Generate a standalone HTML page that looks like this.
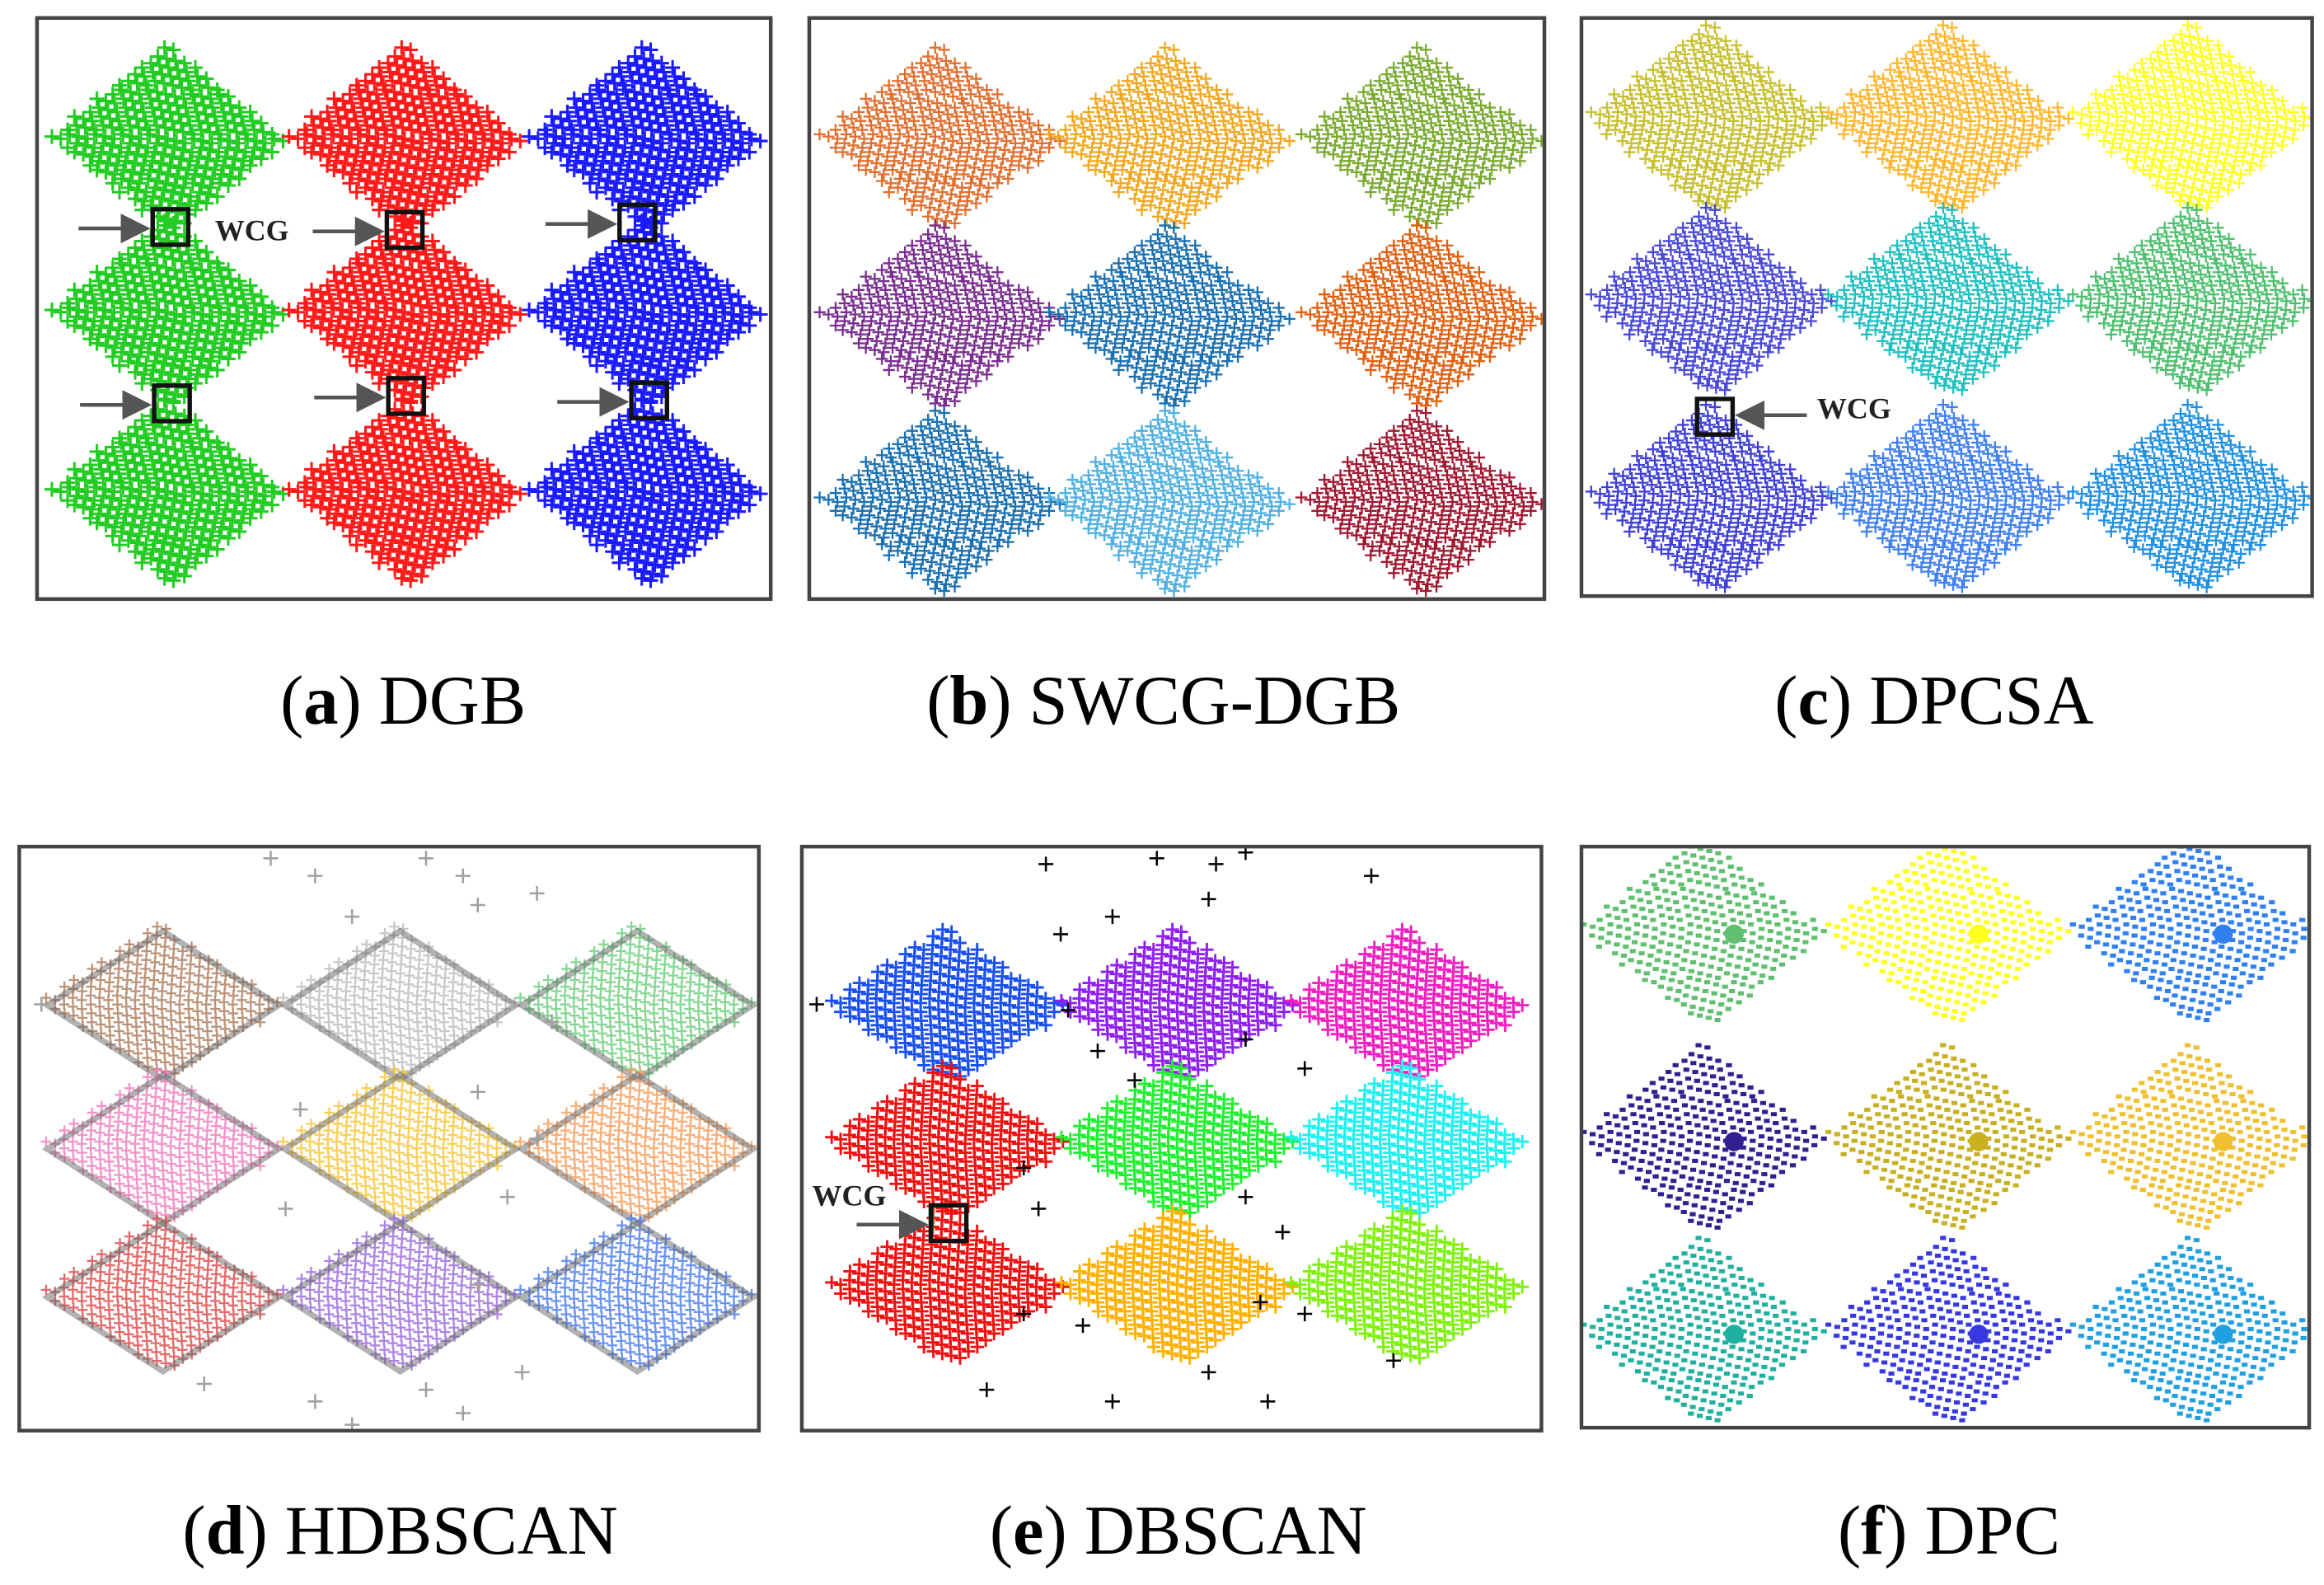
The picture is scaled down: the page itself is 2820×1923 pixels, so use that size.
<!DOCTYPE html>
<html><head><meta charset="utf-8">
<style>
html,body{margin:0;padding:0;background:#fff;}
svg{display:block;}
text{font-family:"Liberation Serif",serif;}
</style></head>
<body>
<svg id="fig" width="2820" height="1923" viewBox="0 0 1568 1069" xmlns="http://www.w3.org/2000/svg">
<rect width="1568" height="1069" fill="#fff"/>
<g id="panels"></g>
<g id="annot"></g>
</svg>
<script>
// Cluster grid data (data-space: column index, row index) per panel
const panelNames = ["DGB","SWCG-DGB","DPCSA","HDBSCAN","DBSCAN","DPC"];
const panelLetters = ["a","b","c","d","e","f"];
const colorsA = ["#22cc22","#ff1a1a","#1a1aff","#22cc22","#ff1a1a","#1a1aff","#22cc22","#ff1a1a","#1a1aff"];
const colorsB = ["#e07030","#f0a820","#7aaa30","#7a2f8f","#1a70b0","#e06010","#1a70b0","#50b0e0","#a01830"];
const colorsC = ["#c8c030","#ffb830","#ffff20","#4a4ad8","#20c0c0","#50c070","#4040d8","#4080f0","#2090e0"];
const colorsD = ["#b08060","#c0c0c0","#70d080","#f080c0","#f8c840","#f8a060","#e05050","#a070e0","#5080f0"];
const colorsE = ["#1a50f0","#9020f0","#f020c0","#f01010","#20f030","#20f0f0","#f01010","#ffb000","#80f010"];
const colorsF = ["#60c070","#ffff20","#3080f0","#302090","#c8b020","#f0c030","#20b0a0","#3838e0","#20a0e0"];
// outliers (fraction of panel box width/height)
const outliersD = [[0.34,0.02],[0.4,0.05],[0.55,0.02],[0.6,0.05],[0.62,0.1],[0.45,0.12],[0.7,0.08],[0.72,0.3],[0.38,0.45],[0.62,0.42],[0.7,0.5],[0.36,0.62],[0.66,0.6],[0.62,0.75],[0.25,0.92],[0.4,0.95],[0.55,0.93],[0.6,0.97],[0.45,0.99],[0.03,0.27],[0.68,0.9]];
const outliersE = [[0.33,0.03],[0.48,0.02],[0.56,0.03],[0.6,0.01],[0.77,0.05],[0.35,0.15],[0.42,0.12],[0.55,0.09],[0.36,0.28],[0.4,0.35],[0.45,0.4],[0.6,0.33],[0.68,0.38],[0.3,0.55],[0.32,0.62],[0.6,0.6],[0.65,0.66],[0.3,0.8],[0.38,0.82],[0.62,0.78],[0.68,0.8],[0.25,0.93],[0.42,0.95],[0.55,0.9],[0.63,0.95],[0.02,0.27],[0.8,0.88]];

const NS="http://www.w3.org/2000/svg";
const root=document.getElementById('panels');
const annot=document.getElementById('annot');
function mk(tag,attrs,parent){const e=document.createElementNS(NS,tag);for(const k in attrs)e.setAttribute(k,attrs[k]);(parent||root).appendChild(e);return e;}

const boxes=[
 {x:25,y:12,w:495,h:392,cols:[115,275,437],rows:[95,212,333],hw:76,hh:60,colors:colorsA,mark:'plus',size:10,sw:1.7,label:272},
 {x:546,y:12,w:496,h:392,cols:[635,790,960],rows:[95,215,340],hw:78,hh:60,colors:colorsB,mark:'plus',size:8,sw:1.3,label:785},
 {x:1067,y:12,w:493,h:390,cols:[1155,1315,1480],rows:[82,205,338],hw:80,hh:62,colors:colorsC,mark:'plus',size:8,sw:1.3,label:1305},
 {x:13,y:571,w:499,h:394,cols:[110,270,430],rows:[678,775,875],hw:78,hh:50,colors:colorsD,mark:'plus',size:7,sw:1.3,label:270,outliers:outliersD,ocol:'#a0a0a0'},
 {x:541,y:571,w:499,h:394,cols:[640,795,950],rows:[680,772,870],hw:78,hh:50,colors:colorsE,mark:'plus',size:9,sw:1.6,label:795,outliers:outliersE,ocol:'#000'},
 {x:1067,y:571,w:491,h:392,cols:[1150,1315,1480],rows:[630,770,900],hw:80,hh:62,colors:colorsF,mark:'dot',size:4,sw:1,label:1315}
];

boxes.forEach((b,pi)=>{
  const g=mk('g',{});
  
  
  const clip='clip'+pi;
  const cp=mk('clipPath',{id:clip},g);mk('rect',{x:b.x,y:b.y,width:b.w,height:b.h},cp);
  const inner=mk('g',{'clip-path':'url(#'+clip+')'},g);
  for(let r=0;r<3;r++)for(let c=0;c<3;c++){
    const col=b.colors[r*3+c];
    const cx=b.cols[c],cy=b.rows[r];
    const cg=mk('g',{stroke:col,fill:col,'stroke-width':b.sw},inner);
    
    
    const step=b.mark==='dot'?6:6;
    let d='';
    let k=0;
    for(let yy=-b.hh;yy<=b.hh;yy+=step){
      const half=b.hw*(1-Math.abs(yy)/b.hh)+4;
      const off=(k++%2)*step/2;
      for(let xx=-half+off;xx<=half;xx+=step){
        const px=cx+xx,py=cy+yy+((Math.round(xx/step)%3)-1)*1.5;
        if(b.mark==='plus'){
          const s=b.size/2;
          d+='M'+(px-s)+' '+py+'h'+(2*s)+'M'+px+' '+(py-s)+'v'+(2*s);
        }else{
          d+='M'+(px-2)+' '+py+'h4';
        }
      }
    }
    mk('path',{d:d,fill:'none','stroke-width':b.mark==='dot'?2.8:b.sw,opacity:pi===3?0.85:1},cg);
    if(b.mark==='dot') mk('circle',{cx:cx+20,cy:cy,r:6},cg);
    if(pi===3){ // grey edges
      mk('path',{d:'M'+(cx-b.hw)+' '+cy+'L'+cx+' '+(cy-b.hh)+'L'+(cx+b.hw)+' '+cy+'L'+cx+' '+(cy+b.hh)+'Z',fill:'none',stroke:'#666','stroke-width':4,opacity:0.5},cg);
    }
  }
  if(b.outliers){
    const og=mk('g',{stroke:b.ocol,'stroke-width':1.4},inner);
    
    
    let d='';
    b.outliers.forEach(p=>{const px=b.x+p[0]*b.w,py=b.y+p[1]*b.h;d+='M'+(px-5)+' '+py+'h10M'+px+' '+(py-5)+'v10';});
    mk('path',{d:d},og);
  }
  const fr=mk('rect',{x:b.x,y:b.y,width:b.w,height:b.h,fill:'none',stroke:'#444','stroke-width':2.5},g);
  
  
  const ty=pi<3?488:1048;
  const t=mk('text',{x:b.label,y:ty,'text-anchor':'middle','font-size':47,fill:'#000'},g);
  
  
  t.innerHTML='(<tspan font-weight="bold">'+panelLetters[pi]+'</tspan>) '+panelNames[pi];
});

// WCG annotations
const wcgBoxes=[[115,153,-1],[273,155,-1],[430,150,-1],[116,272,-1],[274,267,-1],[438,270,-1],[1157,281,1],[640,825,-1]];
const ag=mk('g',{},annot);


mk('defs',{},ag).innerHTML='<marker id="ah" markerWidth="8" markerHeight="8" refX="7" refY="4" orient="auto"><path d="M0,0L8,4L0,8Z" fill="#555"/></marker>';
wcgBoxes.forEach(w=>{
  mk('rect',{x:w[0]-12,y:w[1]-12,width:24,height:24,fill:'none',stroke:'#111','stroke-width':3},ag);
  if(w[2]<0) mk('line',{x1:w[0]-62,y1:w[1]+1,x2:w[0]-16,y2:w[1]+1,stroke:'#555','stroke-width':2.5,'marker-end':'url(#ah)'},ag);
  else mk('line',{x1:w[0]+62,y1:w[1]-1,x2:w[0]+16,y2:w[1]-1,stroke:'#555','stroke-width':2.5,'marker-end':'url(#ah)'},ag);
});
[[145,162],[1226,282],[548,813]].forEach(p=>{
  const t=mk('text',{x:p[0],y:p[1],'font-size':20,'font-weight':'bold',fill:'#222'},ag);
  
  
  t.textContent='WCG';
});
</script>
</body></html>
